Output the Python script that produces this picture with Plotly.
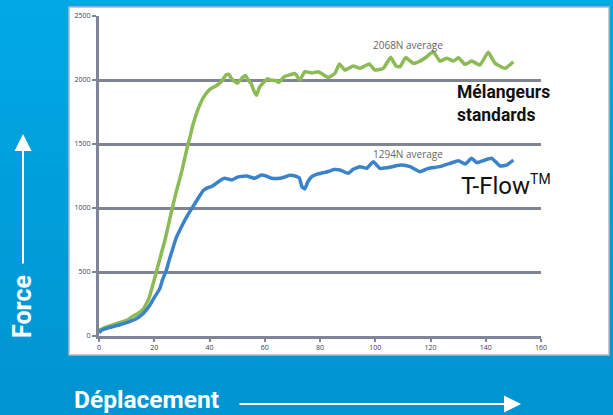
import plotly.graph_objects as go

# ---- data ----
green_x = [0, 2, 4, 6, 8, 10, 12, 14, 16, 18, 20, 21, 22, 23, 24, 26, 28, 30, 32, 33, 34, 36, 38, 40, 42, 44, 45, 46, 47, 48, 50, 52, 53, 54, 55, 56, 57, 58, 60, 61, 62, 64, 65, 67, 69, 71, 72.7, 74.5, 77, 79.3, 81, 83, 85.4, 87, 89, 92, 94.5, 97.8, 99.9, 102.9, 105.6, 107.5, 109, 111, 113.8, 116.2, 118.6, 121, 123.4, 125.9, 128.3, 130.1, 132.5, 134.9, 137.9, 140.9, 143.4, 147, 150]
green_y = [45, 65, 80, 95, 108, 122, 150, 175, 210, 290, 440, 520, 600, 680, 760, 950, 1130, 1290, 1480, 1560, 1650, 1780, 1870, 1925, 1950, 1980, 2010, 2040, 2045, 2010, 1975, 2020, 2035, 2000, 1975, 1920, 1880, 1940, 1990, 2010, 2000, 1995, 1980, 2025, 2040, 2050, 2000, 2065, 2055, 2065, 2045, 2020, 2052, 2125, 2078, 2109, 2091, 2125, 2078, 2091, 2177, 2109, 2104, 2175, 2130, 2148, 2182, 2221, 2148, 2169, 2148, 2174, 2122, 2148, 2117, 2216, 2130, 2091, 2143]

blue_x = [0, 1, 4, 7.5, 10, 13.5, 16, 18.4, 20, 22, 23, 24.4, 25.5, 26.8, 28, 30, 32, 34, 36, 37.7, 39, 40.7, 42, 43.7, 45.5, 47, 48, 50, 51, 53.4, 55, 56.4, 58.8, 60.5, 62.5, 65.5, 67, 69, 71, 72.5, 73.5, 74.5, 75.5, 77, 79, 81, 83, 85, 87.2, 90.2, 92, 94.5, 96.9, 99.3, 101.7, 105.3, 107.5, 109.6, 112.6, 116.2, 119.2, 123.4, 127.1, 130.1, 132.5, 134.9, 136.7, 139.1, 142.2, 145.2, 147.6, 150]
blue_y = [25, 47, 68, 88, 105, 135, 175, 240, 300, 370, 440, 515, 600, 690, 770, 860, 940, 1010, 1080, 1135, 1155, 1168, 1185, 1213, 1232, 1225, 1219, 1240, 1245, 1250, 1240, 1232, 1258, 1250, 1232, 1232, 1240, 1255, 1250, 1235, 1165, 1150, 1200, 1245, 1265, 1275, 1285, 1300, 1297, 1271, 1302, 1323, 1310, 1362, 1310, 1318, 1330, 1336, 1323, 1284, 1310, 1323, 1349, 1370, 1344, 1388, 1354, 1370, 1388, 1328, 1336, 1375]

x_ticks = [0, 20, 40, 60, 80, 100, 120, 140, 160]
y_ticks = [0, 500, 1000, 1500, 2000, 2500]

avg_labels = ["2068N average", "1294N average"]
avg_pos_x = [112, 112]
avg_pos_y = [2273, 1422]

series_names = ["Mélangeurs<br>standards", "T-Flow<sup>TM</sup>"]

# ---- figure ----
W, H = 613, 415
L, R, T, B = 99, 72, 16, 79
pw, ph = W - L - R, H - T - B

def px(xp):
    return (xp - L) / pw

def py(yp):
    return (H - B - yp) / ph

GRID = "#7f8497"
GREEN = "#8cbb56"
BLUE = "#3a82c9"

fig = go.Figure()
fig.add_trace(go.Scatter(x=green_x, y=green_y, mode="lines",
                         line=dict(color=GREEN, width=3.5, shape="spline", smoothing=0.4),
                         showlegend=False, hoverinfo="skip"))
fig.add_trace(go.Scatter(x=blue_x, y=blue_y, mode="lines",
                         line=dict(color=BLUE, width=3.5, shape="spline", smoothing=0.4),
                         showlegend=False, hoverinfo="skip"))

shapes = []
# gradient background
top = (0, 168, 228)
bot = (0, 148, 209)
n = 24
for i in range(n):
    f = i / (n - 1)
    c = tuple(round(top[k] + (bot[k] - top[k]) * f) for k in range(3))
    y1 = py(i * H / n)
    y0 = py((i + 1) * H / n + 0.5)
    shapes.append(dict(type="rect", xref="paper", yref="paper", layer="below",
                       x0=px(0) - 0.01, x1=px(W) + 0.01, y0=y0, y1=y1,
                       fillcolor="rgb(%d,%d,%d)" % c, line=dict(width=0)))
# white chart panel
shapes.append(dict(type="rect", xref="paper", yref="paper", layer="below",
                   x0=px(69), x1=px(609), y0=py(355), y1=py(7),
                   fillcolor="white", line=dict(color="#b4b8c2", width=1.5)))

annotations = []
for t, ax_, ay_ in zip(avg_labels, avg_pos_x, avg_pos_y):
    annotations.append(dict(x=ax_, y=ay_, xref="x", yref="y", text=t, showarrow=False,
                            font=dict(family="Open Sans", size=10, color="#666666")))
annotations.append(dict(x=px(455), y=py(103), xref="paper", yref="paper",
                        text="<b>" + series_names[0] + "</b>", showarrow=False,
                        xanchor="left", yanchor="middle", align="left",
                        font=dict(family="Roboto", size=17.5, color="#111111")))
annotations.append(dict(x=px(459), y=py(185), xref="paper", yref="paper",
                        text=series_names[1].replace("<sup>", "<sup><span style='font-size:14px'>").replace("</sup>", "</span></sup>"),
                        showarrow=False,
                        xanchor="left", yanchor="middle", align="left",
                        font=dict(family="Roboto", size=24, color="#111111")))
# axis titles
annotations.append(dict(x=px(72), y=py(399), xref="paper", yref="paper",
                        text="<b>Déplacement</b>", showarrow=False,
                        xanchor="left", yanchor="middle",
                        font=dict(family="Roboto", size=24.5, color="white")))
annotations.append(dict(x=px(22), y=py(307), xref="paper", yref="paper",
                        text="<b>Force</b>", showarrow=False, textangle=-90,
                        xanchor="center", yanchor="middle",
                        font=dict(family="Roboto", size=25, color="white")))
# arrows
annotations.append(dict(x=px(521), y=py(404), xref="paper", yref="paper", text="",
                        showarrow=True, ax=-283, ay=0, arrowhead=2, arrowsize=1.7,
                        arrowwidth=2, arrowcolor="white"))
annotations.append(dict(x=px(23), y=py(134), xref="paper", yref="paper", text="",
                        showarrow=True, ax=0, ay=131, arrowhead=2, arrowsize=1.7,
                        arrowwidth=2, arrowcolor="white"))

fig.update_layout(
    width=W, height=H, autosize=False,
    margin=dict(l=L, r=R, t=T, b=B, pad=0),
    paper_bgcolor="#009fdc", plot_bgcolor="rgba(0,0,0,0)",
    shapes=shapes, annotations=annotations,
    showlegend=False,
)
fig.update_xaxes(range=[0, 160], tickvals=x_ticks, showgrid=False, zeroline=False,
                 showline=True, linecolor=GRID, linewidth=3,
                 ticks="outside", ticklen=3, tickwidth=2, tickcolor=GRID,
                 tickfont=dict(family="Open Sans", size=7, color="#404040"))
fig.update_yaxes(range=[0, 2500], tickvals=y_ticks, showgrid=True, gridcolor=GRID,
                 gridwidth=3, zeroline=False,
                 showline=True, linecolor=GRID, linewidth=3,
                 ticks="outside", ticklen=4, tickwidth=2, tickcolor=GRID,
                 tickfont=dict(family="Open Sans", size=7, color="#404040"))

fig.write_html("out.html", config={"displayModeBar": False},
               post_script="document.body.style.margin='0px';document.body.style.overflow='hidden';")
